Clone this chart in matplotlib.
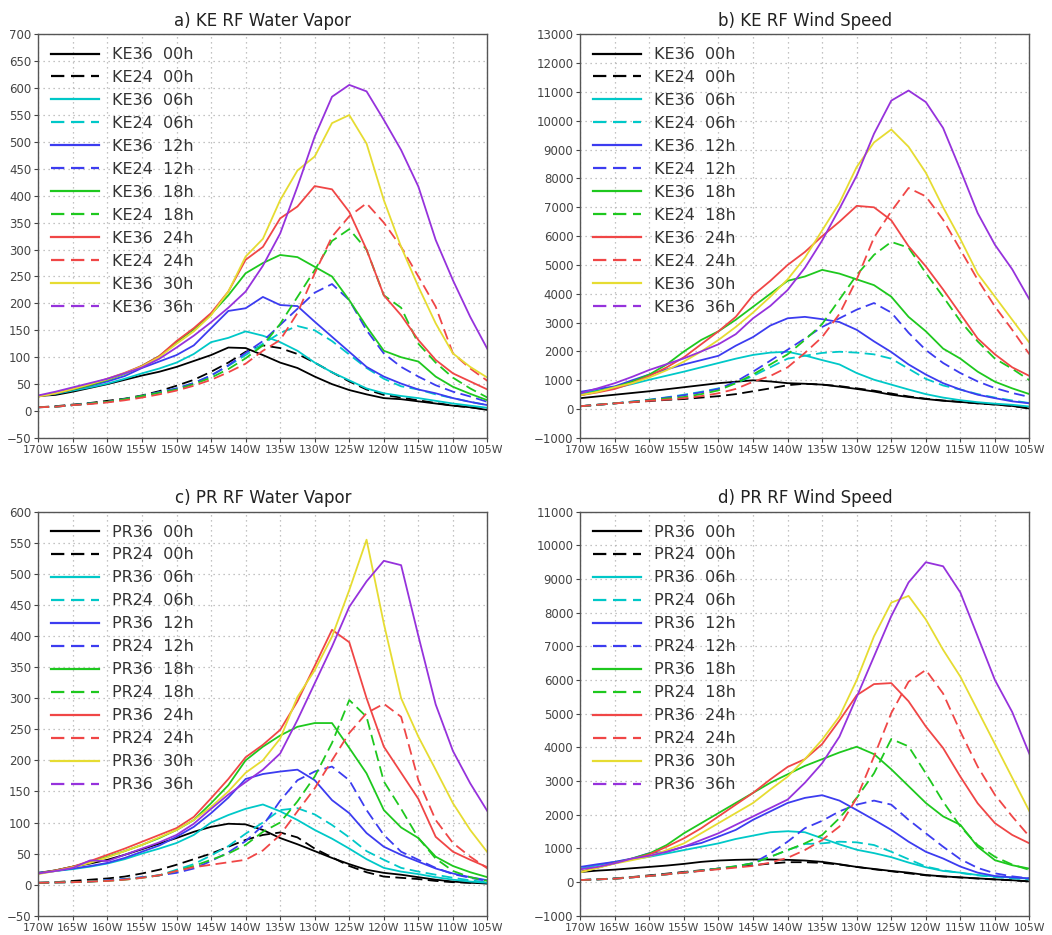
import numpy as np
import matplotlib
matplotlib.use("Agg")
import matplotlib.pyplot as plt
from matplotlib.lines import Line2D

# longitude grid, 170W .. 105W every 2.5 deg
lon = np.arange(-170, -104, 2.5)

# ---- a) KE RF Water Vapor
a_36_00 = [28, 30, 36, 43, 50, 58, 66, 73, 82, 93, 104, 118, 117, 104, 90, 80, 64, 50, 39, 31, 24, 22, 18, 14, 10, 7, 2]
a_24_00 = [7, 9, 12, 15, 19, 23, 29, 37, 47, 58, 73, 90, 110, 122, 117, 106, 90, 72, 55, 40, 30, 25, 20, 15, 10, 7, 3]
a_36_06 = [28, 32, 38, 44, 51, 60, 70, 79, 90, 106, 128, 136, 148, 140, 128, 112, 90, 72, 57, 42, 33, 28, 24, 19, 14, 10, 6]
a_24_06 = [7, 8, 11, 14, 17, 22, 28, 35, 42, 52, 66, 84, 104, 125, 145, 158, 150, 130, 105, 80, 60, 46, 40, 31, 24, 17, 11]
a_36_12 = [28, 33, 40, 47, 55, 65, 80, 92, 104, 122, 154, 186, 191, 212, 197, 195, 166, 138, 110, 82, 64, 51, 40, 33, 24, 17, 11]
a_24_12 = [7, 8, 11, 14, 17, 22, 28, 35, 42, 52, 66, 85, 108, 130, 160, 190, 220, 236, 206, 150, 107, 82, 64, 48, 36, 27, 17]
a_36_18 = [27, 33, 40, 48, 58, 69, 84, 102, 128, 152, 180, 215, 256, 275, 290, 286, 268, 250, 206, 157, 112, 100, 92, 64, 45, 32, 20]
a_24_18 = [7, 8, 11, 14, 17, 22, 28, 34, 40, 50, 62, 78, 98, 122, 162, 212, 262, 316, 338, 300, 215, 192, 125, 90, 62, 42, 25]
a_36_24 = [27, 33, 41, 50, 60, 71, 84, 102, 130, 154, 182, 222, 281, 305, 358, 380, 418, 412, 370, 300, 215, 178, 132, 95, 70, 55, 40]
a_24_24 = [7, 8, 11, 13, 16, 20, 25, 31, 38, 47, 58, 72, 88, 112, 132, 182, 256, 324, 362, 386, 350, 305, 250, 194, 107, 79, 56]
a_36_30 = [27, 33, 41, 50, 59, 70, 83, 100, 125, 148, 178, 222, 287, 320, 392, 447, 473, 535, 550, 497, 392, 305, 231, 163, 107, 82, 62]
a_36_36 = [29, 36, 44, 52, 60, 70, 81, 97, 118, 140, 165, 192, 222, 270, 330, 417, 510, 584, 606, 594, 541, 485, 417, 318, 243, 175, 115]

# ---- b) KE RF Wind Speed
b_36_00 = [380, 440, 500, 560, 620, 690, 760, 830, 900, 950, 1000, 960, 900, 880, 850, 780, 700, 610, 500, 420, 350, 290, 250, 200, 160, 110, 20]
b_24_00 = [100, 150, 200, 240, 280, 320, 350, 400, 450, 520, 620, 720, 830, 880, 850, 800, 720, 640, 540, 440, 360, 300, 250, 200, 160, 110, 30]
b_36_06 = [550, 640, 730, 870, 1020, 1160, 1300, 1450, 1600, 1750, 1880, 1960, 1990, 1860, 1700, 1550, 1250, 1020, 850, 680, 520, 400, 310, 240, 190, 150, 90]
b_24_06 = [100, 150, 200, 260, 330, 410, 500, 600, 720, 900, 1150, 1450, 1750, 1850, 1950, 1990, 1960, 1900, 1750, 1400, 1050, 820, 680, 520, 400, 300, 210]
b_36_12 = [600, 700, 790, 1000, 1200, 1380, 1550, 1700, 1850, 2200, 2500, 2900, 3150, 3200, 3120, 3020, 2750, 2350, 1980, 1550, 1200, 900, 680, 500, 380, 270, 200]
b_24_12 = [100, 150, 200, 260, 320, 400, 480, 580, 700, 950, 1300, 1680, 2060, 2450, 2850, 3150, 3450, 3680, 3350, 2650, 2050, 1600, 1250, 960, 730, 560, 420]
b_36_18 = [480, 620, 760, 950, 1200, 1550, 2000, 2400, 2700, 3100, 3550, 4000, 4450, 4600, 4830, 4700, 4500, 4300, 3900, 3200, 2700, 2100, 1750, 1300, 950, 720, 520]
b_24_18 = [100, 150, 200, 250, 310, 370, 420, 520, 650, 900, 1200, 1550, 1900, 2400, 2950, 3800, 4650, 5350, 5800, 5600, 4720, 3900, 3050, 2350, 1750, 1400, 1000]
b_36_24 = [480, 580, 700, 900, 1150, 1450, 1800, 2250, 2700, 3200, 3950, 4450, 5000, 5450, 6000, 6500, 7050, 7000, 6550, 5650, 4950, 4150, 3300, 2450, 1900, 1450, 1150]
b_24_24 = [100, 150, 200, 240, 290, 330, 380, 450, 550, 700, 950, 1150, 1450, 1950, 2500, 3300, 4500, 5950, 6860, 7670, 7380, 6570, 5530, 4490, 3560, 2750, 1900]
b_36_30 = [480, 600, 760, 900, 1100, 1350, 1650, 2000, 2400, 2850, 3350, 3900, 4500, 5250, 6200, 7150, 8400, 9250, 9700, 9100, 8200, 7000, 5900, 4700, 3900, 3100, 2300]
b_36_36 = [550, 720, 900, 1120, 1360, 1560, 1760, 2000, 2250, 2600, 3150, 3580, 4130, 4900, 5850, 6950, 8100, 9550, 10700, 11050, 10650, 9750, 8300, 6800, 5700, 4850, 3800]

# ---- c) PR RF Water Vapor
c_36_00 = [19, 23, 29, 34, 40, 48, 57, 66, 75, 85, 93, 98, 97, 88, 75, 65, 54, 43, 33, 24, 19, 16, 12, 8, 5, 3, 2]
c_24_00 = [3, 4, 6, 8, 10, 13, 18, 24, 32, 41, 50, 61, 72, 80, 84, 76, 58, 44, 30, 20, 13, 11, 9, 6, 4, 3, 2]
c_36_06 = [19, 22, 25, 29, 34, 41, 50, 58, 67, 80, 100, 112, 122, 129, 118, 104, 88, 74, 58, 41, 27, 21, 17, 12, 8, 5, 3]
c_24_06 = [3, 3.5, 4, 5, 7, 9, 12, 15, 24, 33, 47, 62, 82, 100, 120, 123, 113, 96, 76, 54, 40, 27, 21, 16, 11, 7, 4]
c_36_12 = [19, 22, 26, 30, 35, 43, 53, 63, 77, 93, 115, 140, 170, 178, 182, 185, 168, 136, 115, 83, 61, 48, 37, 26, 18, 12, 7]
c_24_12 = [3, 3.5, 4, 5, 7, 9, 12, 15, 19, 26, 38, 52, 70, 95, 135, 168, 182, 190, 168, 120, 80, 53, 40, 27, 17, 11, 6]
c_36_18 = [18, 23, 29, 36, 45, 54, 64, 75, 88, 104, 131, 160, 200, 222, 240, 254, 260, 260, 220, 179, 120, 92, 75, 45, 30, 20, 12]
c_24_18 = [3, 3.5, 4, 5, 6, 8, 11, 15, 22, 30, 40, 50, 64, 85, 100, 134, 174, 228, 297, 270, 166, 122, 75, 42, 22, 12, 6]
c_36_24 = [18, 23, 29, 38, 48, 58, 69, 80, 91, 109, 139, 170, 205, 225, 249, 295, 352, 410, 390, 300, 222, 180, 138, 77, 53, 40, 28]
c_24_24 = [3, 3.5, 4, 5, 6, 8, 11, 15, 22, 28, 32, 36, 40, 55, 80, 118, 155, 200, 244, 276, 291, 270, 168, 104, 67, 45, 26]
c_36_30 = [17, 22, 28, 35, 44, 54, 64, 76, 88, 104, 125, 150, 180, 200, 235, 302, 345, 399, 474, 555, 420, 300, 238, 185, 131, 88, 52]
c_36_36 = [18, 22, 27, 39, 38, 48, 58, 68, 80, 98, 122, 145, 165, 185, 211, 265, 324, 383, 447, 488, 521, 514, 400, 290, 215, 163, 118]

# ---- d) PR RF Wind Speed
d_36_00 = [300, 340, 370, 410, 450, 490, 540, 600, 640, 660, 670, 670, 660, 640, 600, 530, 450, 390, 330, 280, 210, 170, 140, 110, 80, 55, 20]
d_24_00 = [60, 80, 110, 150, 200, 250, 300, 350, 400, 450, 500, 550, 590, 590, 570, 520, 450, 380, 320, 260, 200, 165, 135, 105, 78, 52, 20]
d_36_06 = [400, 500, 600, 680, 750, 850, 950, 1050, 1150, 1280, 1380, 1480, 1510, 1480, 1300, 1120, 960, 860, 740, 580, 440, 330, 280, 210, 165, 130, 100]
d_24_06 = [60, 80, 100, 140, 180, 230, 280, 340, 400, 470, 560, 750, 950, 1130, 1150, 1200, 1180, 1100, 900, 680, 460, 350, 270, 200, 150, 110, 80]
d_36_12 = [450, 530, 600, 700, 860, 900, 1050, 1160, 1350, 1550, 1850, 2100, 2350, 2500, 2580, 2420, 2140, 1850, 1550, 1200, 900, 700, 460, 280, 180, 140, 110]
d_24_12 = [60, 80, 100, 140, 180, 230, 280, 340, 400, 460, 560, 850, 1200, 1600, 1820, 2100, 2300, 2420, 2300, 1850, 1450, 1050, 680, 420, 260, 170, 110]
d_36_18 = [300, 430, 560, 700, 850, 1100, 1450, 1750, 2050, 2350, 2650, 2950, 3200, 3450, 3650, 3850, 4020, 3800, 3350, 2850, 2350, 1950, 1700, 1050, 650, 500, 400]
d_24_18 = [60, 80, 100, 140, 180, 230, 280, 340, 400, 470, 560, 750, 950, 1150, 1400, 1900, 2500, 3230, 4250, 4030, 3230, 2390, 1650, 1100, 750, 520, 360]
d_36_24 = [300, 430, 560, 680, 820, 1050, 1300, 1600, 1950, 2300, 2650, 3050, 3420, 3650, 4100, 4800, 5550, 5880, 5910, 5370, 4620, 3980, 3130, 2340, 1750, 1400, 1150]
d_24_24 = [60, 80, 100, 140, 180, 230, 280, 330, 380, 430, 480, 580, 720, 950, 1250, 1650, 2500, 3730, 5020, 5950, 6300, 5600, 4470, 3430, 2590, 1950, 1350]
d_36_30 = [290, 420, 550, 650, 760, 950, 1150, 1450, 1750, 2050, 2350, 2750, 3130, 3650, 4230, 4920, 6000, 7300, 8300, 8500, 7800, 6900, 6100, 5100, 4100, 3100, 2100]
d_36_36 = [380, 450, 560, 700, 780, 900, 1050, 1250, 1450, 1700, 1950, 2200, 2450, 2950, 3530, 4320, 5500, 6700, 7900, 8900, 9500, 9380, 8600, 7300, 6000, 5050, 3800]

runs = ["36", "24", "36", "24", "36", "24", "36", "24", "36", "24", "36", "36"]
hours = ["00h", "00h", "06h", "06h", "12h", "12h", "18h", "18h", "24h", "24h", "30h", "36h"]
colors = ["#000000", "#000000", "#00c8c8", "#00c8c8", "#3c3cf0", "#3c3cf0",
          "#1ec81e", "#1ec81e", "#f04646", "#f04646", "#e6dc32", "#9632dc"]
styles = ["-", "--", "-", "--", "-", "--", "-", "--", "-", "--", "-", "-"]
# the legend of the original shows the 36h entry dashed
legend_styles = styles[:-1] + ["--"]

panels = [
    ("a) KE RF Water Vapor", "KE", [a_36_00, a_24_00, a_36_06, a_24_06, a_36_12, a_24_12,
                                   a_36_18, a_24_18, a_36_24, a_24_24, a_36_30, a_36_36], (-50, 700), 50),
    ("b) KE RF Wind Speed", "KE", [b_36_00, b_24_00, b_36_06, b_24_06, b_36_12, b_24_12,
                                  b_36_18, b_24_18, b_36_24, b_24_24, b_36_30, b_36_36], (-1000, 13000), 1000),
    ("c) PR RF Water Vapor", "PR", [c_36_00, c_24_00, c_36_06, c_24_06, c_36_12, c_24_12,
                                   c_36_18, c_24_18, c_36_24, c_24_24, c_36_30, c_36_36], (-50, 600), 50),
    ("d) PR RF Wind Speed", "PR", [d_36_00, d_24_00, d_36_06, d_24_06, d_36_12, d_24_12,
                                  d_36_18, d_24_18, d_36_24, d_24_24, d_36_30, d_36_36], (-1000, 11000), 1000),
]

# axes boxes in figure fraction (left, bottom, width, height)
boxes = [(0.0364, 0.5316, 0.427, 0.4317), (0.5516, 0.5316, 0.427, 0.4317),
         (0.0364, 0.0206, 0.427, 0.4321), (0.5516, 0.0206, 0.427, 0.4321)]

DASH = (6, 3)
fig = plt.figure(figsize=(10.52, 9.35), dpi=100)

for (title, tag, series, ylim, ystep), box in zip(panels, boxes):
    ax = fig.add_axes(box)
    for vals, c, ls in zip(series, colors, styles):
        line, = ax.plot(lon, vals, color=c, lw=1.3, linestyle=ls)
        if ls == "--":
            line.set_dashes(DASH)

    ax.set_xlim(-170, -105)
    ax.set_ylim(*ylim)
    xt = np.arange(-170, -104, 5)
    ax.set_xticks(xt)
    ax.set_xticklabels([f"{abs(v)}W" for v in xt])
    ax.set_yticks(np.arange(ylim[0], ylim[1] + 1, ystep))
    ax.grid(True, color="#b0b0b0", linestyle=(0, (1, 3)), lw=0.9)
    ax.tick_params(axis="y", labelsize=8.5, colors="#444444", length=3, width=0.8, pad=2)
    ax.tick_params(axis="x", labelsize=7.8, colors="#444444", length=3, width=0.8, pad=2)
    for s in ax.spines.values():
        s.set_color("#555555")
        s.set_linewidth(1.0)
    ax.set_title(title, fontsize=12, pad=6, color="#222222")

    handles = []
    for r, h, c, ls in zip(runs, hours, colors, legend_styles):
        hl = Line2D([], [], color=c, lw=1.6, linestyle=ls, label=f"{tag}{r}  {h}")
        if ls == "--":
            hl.set_dashes(DASH)
        handles.append(hl)
    leg = ax.legend(handles=handles, loc="upper left", frameon=False, fontsize=11.5,
                    handlelength=3.0, handletextpad=0.8, labelspacing=0.5,
                    borderaxespad=0.3, borderpad=0.5)
    for t in leg.get_texts():
        t.set_color("#333333")

fig.savefig("out.png", dpi=100)
